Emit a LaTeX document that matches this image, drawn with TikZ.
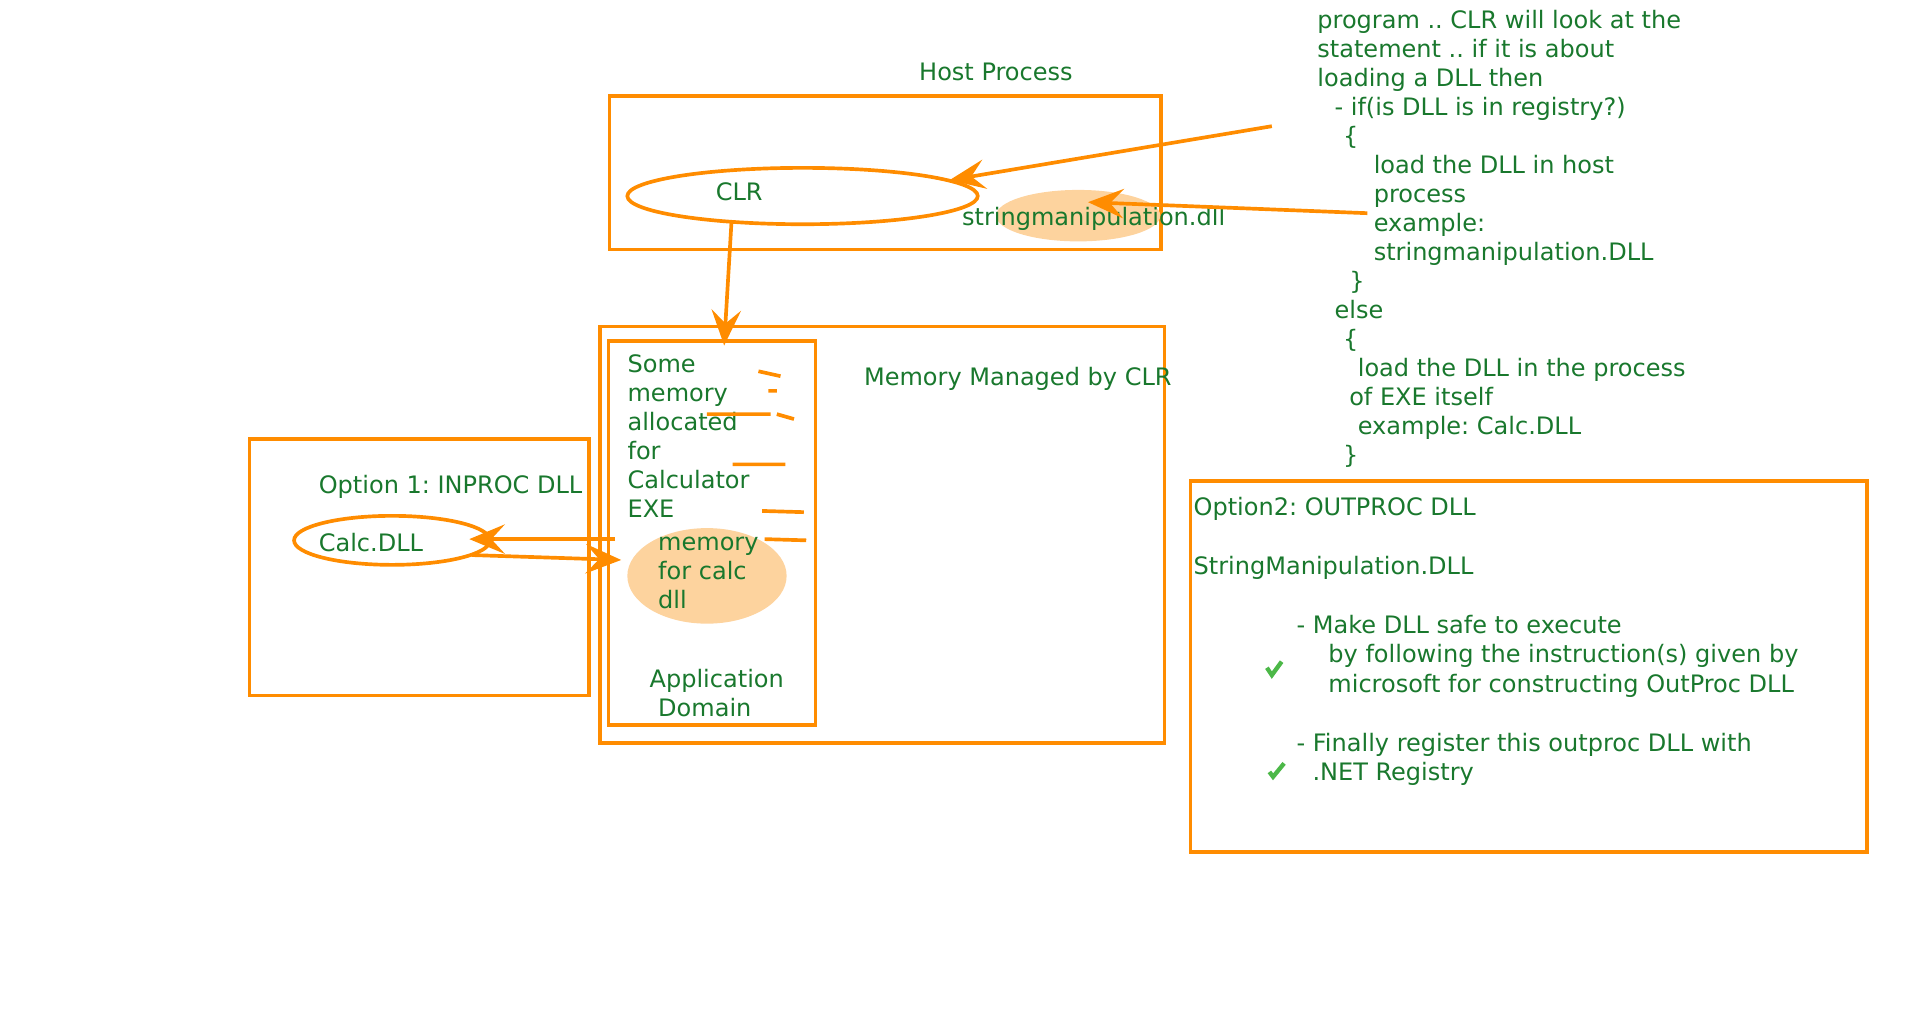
\documentclass[tikz,border=0pt]{standalone}
\usepackage{fontspec}
\setmainfont{DejaVu Sans}
\frenchspacing
\usetikzlibrary{shapes.geometric,arrows.meta}
\definecolor{boxorange}{RGB}{255,140,0}
\definecolor{txtgreen}{RGB}{25,120,45}
\definecolor{dllfill}{RGB}{253,211,158}
\definecolor{tickgreen}{RGB}{76,184,72}

\tikzset{
  frame/.style={draw=boxorange, line width=3pt, anchor=north west, inner sep=0pt},
  oval/.style={ellipse, draw=boxorange, line width=3pt, inner sep=0pt},
  blob/.style={ellipse, fill=dllfill, inner sep=0pt},
  lbl/.style={text=txtgreen, anchor=base west, inner sep=0pt, align=left,
    font=\fontsize{19.6}{23.7}\selectfont},
  link/.style={draw=boxorange, line width=3pt,
    -{Stealth[length=29pt,width=24pt,inset=11pt]}},
  tick/.style={draw=tickgreen, line width=3.5pt}
}

\begin{document}
\begin{tikzpicture}[x=1pt,y=-1pt]
    \useasboundingbox (0,0) rectangle (1567,830);
    % the boxes
    \node[frame, minimum width=450, minimum height=125] (host) at (496,77) {};
    \node[frame, minimum width=461, minimum height=340] (managed) at (488,265) {};
    \node[frame, minimum width=169, minimum height=313] (appdomain) at (495,277) {};
    \node[frame, minimum width=277, minimum height=209] (inproc) at (202,357) {};
    \node[frame, minimum width=552, minimum height=303] (outproc) at (970,391) {};
    % ellipses
    \node[oval, minimum width=286, minimum height=46] (clr) at (655,160) {};
    \node[blob, minimum width=134, minimum height=42] (strdll) at (880,176) {};
    \node[blob, minimum width=130, minimum height=78] (calcmem) at (577,470) {};
    \node[oval, minimum width=160, minimum height=40] (calc) at (320,441) {};
    % texts (multi-line ones sit on their last line)
    \node[lbl] (hostlbl) at (750,66) {Host Process};
    \node[lbl] (clrlbl) at (584,164) {CLR};
    \node[lbl] (strlbl) at (785,184) {stringmanipulation.dll};
    \node[lbl] (managedlbl) at (705,315) {Memory Managed by CLR};
    \node[lbl] (somemem) at (512,422.5) {Some\\memory\\allocated\\for\\Calculator\\EXE};
    \node[lbl] (calcmemlbl) at (537,496.4) {memory\\for calc\\dll};
    \node[lbl] (domainlbl) at (530,584.7) {Application\\\hspace*{7pt}Domain};
    \node[lbl] (inproclbl) at (260,403) {Option 1: INPROC DLL};
    \node[lbl] (calclbl) at (260,450) {Calc.DLL};
    \node[lbl, font=\fontsize{19.6}{24}\selectfont] (outproclbl) at (974,637) {Option2: OUTPROC DLL\\
      \mbox{}\\
      StringManipulation.DLL\\
      \mbox{}\\
      \hspace*{84pt}- Make DLL safe to execute\\
      \hspace*{110pt}by following the instruction(s) given by\\
      \hspace*{110pt}microsoft for constructing OutProc DLL\\
      \mbox{}\\
      \hspace*{84pt}- Finally register this outproc DLL with\\
      \hspace*{97pt}.NET Registry};
    \node[lbl] (rule) at (1075,378.5) {program .. CLR will look at the\\
      statement .. if it is about\\
      loading a DLL then\\
      \hspace*{14pt}- if(is DLL is in registry?)\\
      \hspace*{21pt}\{\\
      \hspace*{46pt}load the DLL in host\\
      \hspace*{46pt}process\\
      \hspace*{46pt}example:\\
      \hspace*{46pt}stringmanipulation.DLL\\
      \hspace*{26pt}\}\\
      \hspace*{14pt}else\\
      \hspace*{21pt}\{\\
      \hspace*{33pt}load the DLL in the process\\
      \hspace*{26pt}of EXE itself\\
      \hspace*{33pt}example: Calc.DLL\\
      \hspace*{21pt}\}};
    % arrow ends
    \coordinate (ruletop) at (1038,103);
    \coordinate (ruleend) at (1116,174);
    \coordinate (clrin) at (775,147);
    \coordinate (strin) at (888,165);
    \coordinate (clrout) at (597,181);
    \coordinate (domainin) at (591,282);
    \coordinate (memout) at (502,440);
    \coordinate (calcin) at (383,440);
    \coordinate (calcout) at (385,453);
    \coordinate (memin) at (507,457);
    \draw[link] (ruletop) -- (clrin);
    \draw[link] (ruleend) -- (strin);
    \draw[link] (clrout) -- (domainin);
    \draw[link] (memout) -- (calcin);
    \draw[link] (calcout) -- (memin);
    % stray strokes in the app domain
    \draw[boxorange, line width=3pt] (619,303) -- (637,307) (627,319) -- (634,319)
      (577,338) -- (629,338) (634,338) -- (648,342) (598,379) -- (641,379)
      (622,417) -- (656,418) (624,440) -- (658,441);
    % ticks
    \draw[tick] (1034,545) -- (1038,551) -- (1046,540);
    \draw[tick] (1036,630) -- (1039,634) -- (1048,623);
\end{tikzpicture}
\end{document}
